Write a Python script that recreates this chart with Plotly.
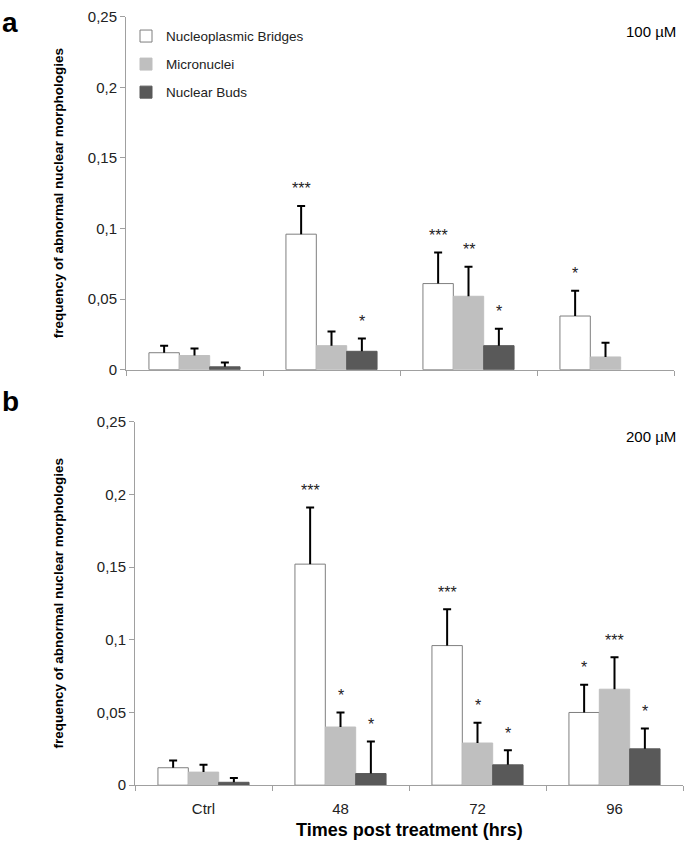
import plotly.graph_objects as go

# ---------------- data ----------------
categories = ["Ctrl", "48", "72", "96"]
series_names = ["Nucleoplasmic Bridges", "Micronuclei", "Nuclear Buds"]

# panel a : 100 µM
nb_100 = [0.012, 0.096, 0.061, 0.038]
nb_100_err = [0.005, 0.020, 0.022, 0.018]
mn_100 = [0.010, 0.017, 0.052, 0.009]
mn_100_err = [0.005, 0.010, 0.021, 0.010]
bud_100 = [0.002, 0.013, 0.017, None]
bud_100_err = [0.003, 0.009, 0.012, None]
nb_100_sig = ["", "***", "***", "*"]
mn_100_sig = ["", "", "**", ""]
bud_100_sig = ["", "*", "*", ""]

# panel b : 200 µM
nb_200 = [0.012, 0.152, 0.096, 0.050]
nb_200_err = [0.005, 0.039, 0.025, 0.019]
mn_200 = [0.009, 0.040, 0.029, 0.066]
mn_200_err = [0.005, 0.010, 0.014, 0.022]
bud_200 = [0.002, 0.008, 0.014, 0.025]
bud_200_err = [0.003, 0.022, 0.010, 0.014]
nb_200_sig = ["", "***", "***", "*"]
mn_200_sig = ["", "*", "*", "***"]
bud_200_sig = ["", "*", "*", "*"]

y_tick_vals = [0, 0.05, 0.1, 0.15, 0.2, 0.25]
y_tick_text = ["0", "0,05", "0,1", "0,15", "0,2", "0,25"]

y_title = "frequency of abnormal nuclear morphologies"
x_title = "Times post treatment (hrs)"

# ---------------- style ----------------
W, H = 686, 852
FONT = "Liberation Sans, Arial, sans-serif"
AXIS_GREY = "#a0a0a0"
fills = ["#ffffff", "#bfbfbf", "#595959"]
outlines = ["#7f7f7f", "#bfbfbf", "#595959"]
BARGAP = 0.335

panels = [
    dict(x0=126, x1=674, ytop=8, ybot=368, xa="x", ya="y", label="a", conc="100 µM",
         vals=[nb_100, mn_100, bud_100], errs=[nb_100_err, mn_100_err, bud_100_err],
         sigs=[nb_100_sig, mn_100_sig, bud_100_sig]),
    dict(x0=135, x1=683, ytop=421, ybot=792, xa="x2", ya="y2", label="b", conc="200 µM",
         vals=[nb_200, mn_200, bud_200], errs=[nb_200_err, mn_200_err, bud_200_err],
         sigs=[nb_200_sig, mn_200_sig, bud_200_sig]),
]

fig = go.Figure()
annotations = []

for p_i, p in enumerate(panels):
    cat_px = (p["x1"] - p["x0"]) / len(categories)
    slot_px = cat_px * (1 - BARGAP) / 3
    stem_w = 2.0 / cat_px
    for k in range(3):
        vals = p["vals"][k]
        errs = p["errs"][k]
        fig.add_trace(go.Bar(
            x=categories, y=vals, name=series_names[k],
            offsetgroup=str(k), legendgroup=series_names[k],
            showlegend=(p_i == 0),
            marker=dict(color=fills[k], line=dict(color=outlines[k], width=1)),
            xaxis=p["xa"], yaxis=p["ya"], hoverinfo="skip",
        ))
        # one-sided (upward) error bar: thin stem + cap
        fig.add_trace(go.Bar(
            x=categories, y=errs, base=vals, width=stem_w,
            offsetgroup=str(k), legendgroup=series_names[k], showlegend=False,
            marker=dict(color="black", line=dict(width=0)),
            error_y=dict(type="data", array=[0 if e is not None else None for e in errs],
                         visible=True, color="black", thickness=2, width=4),
            xaxis=p["xa"], yaxis=p["ya"], hoverinfo="skip",
        ))
        # significance stars (x given as category index)
        for i, s in enumerate(p["sigs"][k]):
            if s and vals[i] is not None:
                annotations.append(dict(
                    x=i, y=vals[i] + errs[i], xref=p["xa"], yref=p["ya"],
                    xshift=(k - 1) * slot_px, yshift=17, yanchor="middle", xanchor="center",
                    text=s, showarrow=False, font=dict(size=16, color="#222", family=FONT),
                ))
    # panel letter
    annotations.append(dict(
        x=0.0, y=1 - (p["ytop"] + (6 if p_i == 0 else -21)) / H, xref="paper", yref="paper",
        xanchor="left", yanchor="middle", text="<b>%s</b>" % p["label"], showarrow=False,
        font=dict(size=28, color="black", family=FONT),
    ))
    # concentration label
    annotations.append(dict(
        x=678 / W, y=1 - (p["ytop"] + 15) / H, xref="paper", yref="paper",
        xanchor="right", yanchor="middle", text=p["conc"], showarrow=False,
        font=dict(size=15, color="black", family=FONT),
    ))
    # y-axis title
    annotations.append(dict(
        x=58 / W, y=1 - (p["ytop"] + p["ybot"]) / 2 / H, xref="paper", yref="paper",
        xanchor="center", yanchor="middle", textangle=-90, text="<b>%s</b>" % y_title,
        showarrow=False, font=dict(size=13.5, color="black", family=FONT),
    ))

# x-axis title
annotations.append(dict(
    x=(135 + 683) / 2 / W, y=1 - 838 / H, xref="paper", yref="paper",
    xanchor="center", yanchor="middle", text="<b>%s</b>" % x_title, showarrow=False,
    font=dict(size=18, color="black", family=FONT),
))


def xaxis_cfg(p, labels):
    return dict(
        domain=[p["x0"] / W, p["x1"] / W], anchor=p["ya"],
        type="category", categoryorder="array", categoryarray=categories,
        range=[-0.5, len(categories) - 0.5], autorange=False,
        showline=True, linecolor=AXIS_GREY, linewidth=1, showgrid=False, zeroline=False,
        ticks="outside", tickson="boundaries", ticklen=5, tickcolor=AXIS_GREY, tickwidth=1,
        showticklabels=labels, tickfont=dict(size=15, color="#222", family=FONT),
        ticklabelstandoff=10, tickangle=0, fixedrange=True,
    )


def yaxis_cfg(p):
    return dict(
        domain=[1 - p["ybot"] / H, 1 - p["ytop"] / H], anchor=p["xa"],
        range=[0, 0.25], autorange=False, tickvals=y_tick_vals, ticktext=y_tick_text,
        showline=True, linecolor=AXIS_GREY, linewidth=1, showgrid=False, zeroline=False,
        ticks="outside", ticklen=5, tickcolor=AXIS_GREY, tickwidth=1,
        tickfont=dict(size=15, color="#222", family=FONT), fixedrange=True,
    )


fig.update_layout(
    width=W, height=H, margin=dict(l=0, r=0, t=0, b=0),
    paper_bgcolor="white", plot_bgcolor="white",
    font=dict(family=FONT, color="black"),
    barmode="group", bargap=BARGAP, bargroupgap=0,
    xaxis=xaxis_cfg(panels[0], False), yaxis=yaxis_cfg(panels[0]),
    xaxis2=xaxis_cfg(panels[1], True), yaxis2=yaxis_cfg(panels[1]),
    legend=dict(x=126 / W, y=1 - 12 / H, xanchor="left", yanchor="top",
                bgcolor="rgba(0,0,0,0)", font=dict(size=13.5, color="#222", family=FONT),
                traceorder="grouped", tracegroupgap=7.5, itemwidth=30),
    annotations=annotations,
    showlegend=True,
)

# remove the browser's default 8px body margin so the figure sits at the page origin
fig.write_html("out.html", config={"displayModeBar": False},
               post_script="document.body.style.margin='0';")
